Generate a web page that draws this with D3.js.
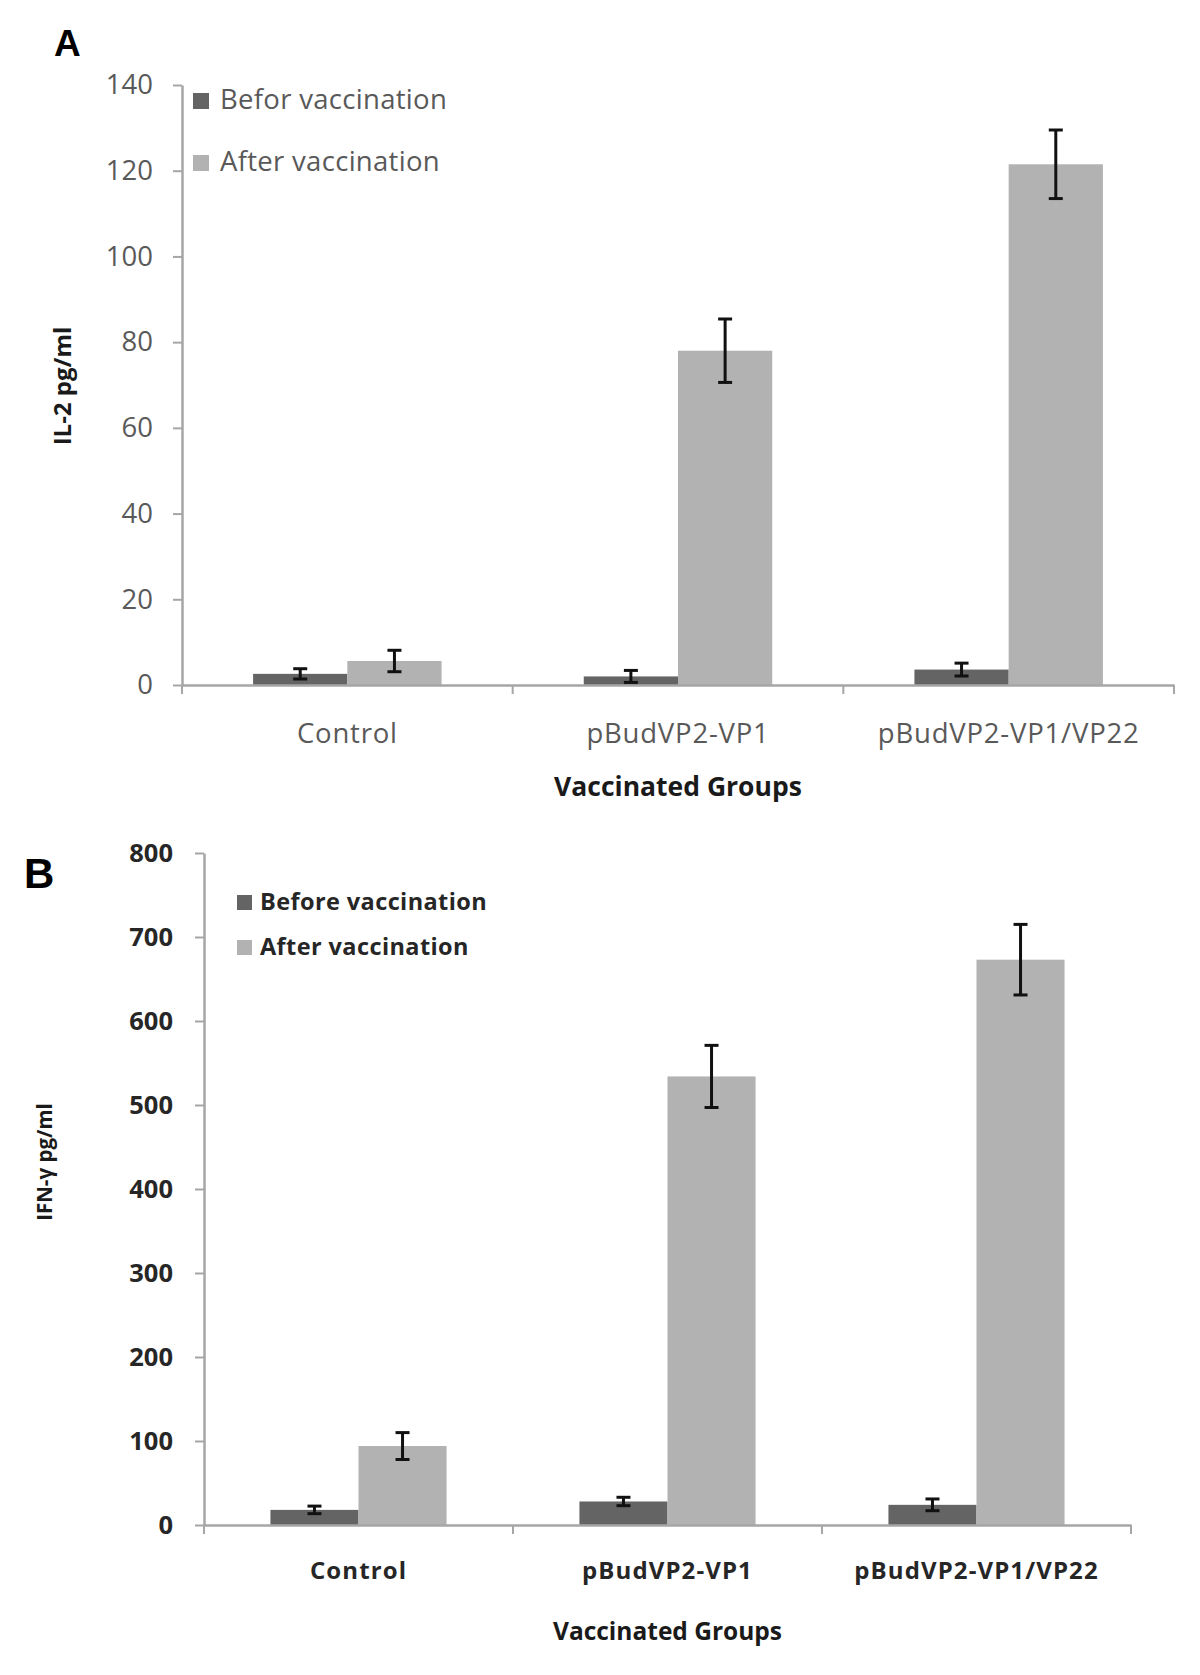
<!DOCTYPE html>
<html><head><meta charset="utf-8">
<script src="https://cdn.jsdelivr.net/npm/d3@7"></script>
<style>body{margin:0;background:#fff}svg{display:block}</style>
</head><body>
<svg id="c" width="1200" height="1675"></svg>
<script>
const categories = ["Control", "pBudVP2-VP1", "pBudVP2-VP1/VP22"];
const seriesNamesA = ["Befor vaccination", "After vaccination"];
const seriesNamesB = ["Before vaccination", "After vaccination"];
const il2Before = [2.6, 2.0, 3.6];
const il2BeforeErr = [1.2, 1.4, 1.5];
const il2After = [5.6, 78, 121.5];
const il2AfterErr = [2.5, 7.4, 8];
const ifnBefore = [18, 28, 24];
const ifnBeforeErr = [4.5, 5, 7];
const ifnAfter = [94, 534, 673];
const ifnAfterErr = [16, 37, 42];
const il2Ticks = [0, 20, 40, 60, 80, 100, 120, 140];
const ifnTicks = [0, 100, 200, 300, 400, 500, 600, 700, 800];
const colors = ["#646464", "#b2b2b2"];

const svg = d3.select("#c");

function panel(o) {
  const g = svg.append("g");
  const x = d3.scaleBand().domain(categories).range([o.x0, o.x1]).padding(0);
  const bw = x.bandwidth();
  const xs = d3.scaleBand().domain([0, 1]).range([bw * 0.215, bw * 0.785]).padding(0);
  const y = d3.scaleLinear().domain([0, o.max]).range([o.y0, o.y1]);

  // y axis
  const ya = g.append("g").attr("transform", `translate(${o.x0},0)`)
    .call(d3.axisLeft(y).tickValues(o.ticks).tickSize(9).tickPadding(o.tickPad).tickSizeOuter(0));
  ya.select(".domain").attr("stroke", "#a6a6a6").attr("stroke-width", 2.5);
  ya.selectAll(".tick line").attr("stroke", "#a6a6a6").attr("stroke-width", 2);
  ya.selectAll(".tick text").attr("font-family", "'Open Sans'").attr("font-size", o.tickFs)
    .attr("font-weight", o.bold ? 700 : 400).attr("fill", o.txt);

  // bars
  const data = [];
  categories.forEach((c, i) => {
    data.push({c, s: 0, v: o.before[i], e: o.beforeErr[i]});
    data.push({c, s: 1, v: o.after[i], e: o.afterErr[i]});
  });
  g.selectAll("rect.bar").data(data).join("rect").attr("class", "bar")
    .attr("x", d => x(d.c) + xs(d.s)).attr("width", xs.bandwidth())
    .attr("y", d => y(d.v)).attr("height", d => y(0) - y(d.v))
    .attr("fill", d => colors[d.s]);

  // x axis
  const xa = g.append("g").attr("transform", `translate(0,${o.y0})`)
    .call(d3.axisBottom(x).tickSize(0).tickPadding(o.xPad));
  xa.select(".domain").attr("stroke", "#a6a6a6").attr("stroke-width", 2.5);
  xa.selectAll(".tick text").attr("font-family", "'Open Sans'").attr("font-size", o.xFs)
    .attr("letter-spacing", o.xLs)
    .attr("font-weight", o.bold ? 700 : 400).attr("fill", o.txt);
  const bounds = categories.map(c => x(c)).concat([o.x1]);
  g.selectAll("line.bt").data(bounds).join("line").attr("class", "bt")
    .attr("x1", d => d).attr("x2", d => d).attr("y1", o.y0).attr("y2", o.y0 + 9)
    .attr("stroke", "#a6a6a6").attr("stroke-width", 2);

  // error bars
  const eb = g.selectAll("g.eb").data(data).join("g").attr("class", "eb")
    .attr("transform", d => `translate(${x(d.c) + xs(d.s) + xs.bandwidth() / 2},0)`);
  eb.append("line").attr("y1", d => y(d.v + d.e)).attr("y2", d => y(d.v - d.e))
    .attr("stroke", "#111").attr("stroke-width", 3);
  eb.append("line").attr("x1", -7).attr("x2", 7).attr("y1", d => y(d.v + d.e)).attr("y2", d => y(d.v + d.e))
    .attr("stroke", "#111").attr("stroke-width", 3);
  eb.append("line").attr("x1", -7).attr("x2", 7).attr("y1", d => y(d.v - d.e)).attr("y2", d => y(d.v - d.e))
    .attr("stroke", "#111").attr("stroke-width", 3);

  // legend
  o.names.forEach((n, i) => {
    const ly = o.legY[i];
    g.append("rect").attr("x", o.legX).attr("y", ly - o.sq).attr("width", o.sq).attr("height", o.sq).attr("fill", colors[i]);
    g.append("text").attr("x", o.legX + o.sq + o.legGap).attr("y", ly)
      .attr("font-family", "'Open Sans'").attr("font-size", o.legFs).attr("font-weight", o.bold ? 700 : 400)
      .attr("letter-spacing", o.legLs)
      .attr("fill", o.txt).text(n);
  });

  // titles
  g.append("text").attr("transform", `translate(${o.ytX},${o.ytY}) rotate(-90)`).attr("text-anchor", "middle")
    .attr("dominant-baseline", "central")
    .attr("font-family", "'Open Sans'").attr("font-weight", 700).attr("font-size", o.ytFs).attr("fill", "#1a1a1a").text(o.yTitle);
  g.append("text").attr("x", (o.x0 + o.x1) / 2).attr("y", o.xtY).attr("text-anchor", "middle")
    .attr("font-family", "'Open Sans'").attr("font-weight", 700).attr("font-size", o.xtFs).attr("fill", "#1a1a1a").text("Vaccinated Groups");
  g.append("text").attr("x", o.lblX).attr("y", o.lblY)
    .attr("font-family", "'Liberation Sans'").attr("font-weight", 700).attr("font-size", o.lblFs).attr("fill", "#000").text(o.lbl);
}

panel({
  x0: 182, x1: 1174, y0: 685, y1: 85, max: 140, ticks: il2Ticks,
  before: il2Before, beforeErr: il2BeforeErr, after: il2After, afterErr: il2AfterErr,
  bold: false, txt: "#595959", tickFs: 27.5, tickPad: 20, xFs: 27.5, xPad: 38, xLs: 0.8,
  names: seriesNamesA, legX: 193, legY: [109, 171], sq: 16, legGap: 11, legFs: 27.5, legLs: 0.3,
  yTitle: "IL-2 pg/ml", ytX: 61, ytY: 386, ytFs: 24, xtY: 796, xtFs: 26.5,
  lbl: "A", lblX: 54, lblY: 56, lblFs: 37
});

panel({
  x0: 204, x1: 1131, y0: 1525, y1: 853, max: 800, ticks: ifnTicks,
  before: ifnBefore, beforeErr: ifnBeforeErr, after: ifnAfter, afterErr: ifnAfterErr,
  bold: true, txt: "#262626", tickFs: 25.5, tickPad: 22, xFs: 24, xLs: 1.1, xPad: 37,
  names: seriesNamesB, legX: 237, legY: [910, 955], sq: 15, legGap: 8, legFs: 23.5, legLs: 0.4,
  yTitle: "IFN-γ pg/ml", ytX: 44, ytY: 1162, ytFs: 20.5, xtY: 1640, xtFs: 24.5,
  lbl: "B", lblX: 24, lblY: 888, lblFs: 42
});
</script>
</body></html>
